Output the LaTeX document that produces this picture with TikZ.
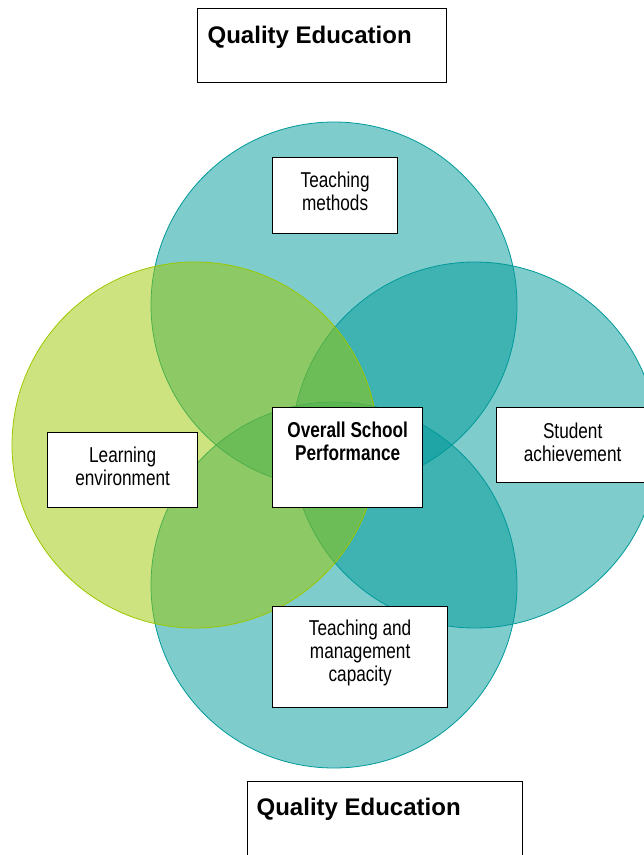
\documentclass[tikz,border=0pt]{standalone}
\usepackage{fontspec}
\setmainfont{Liberation Sans}
\newfontfamily\narrowfont[FakeStretch=0.8]{Liberation Sans}

\definecolor{tealring}{RGB}{0,153,153}
\definecolor{limering}{RGB}{155,199,0}

\tikzset{
  ring/.style={fill opacity=0.5, line width=0.8pt},
  textbox/.style={draw, fill=white, line width=1.3pt, inner sep=0pt, anchor=north west},
  boxfont/.style={font=\narrowfont\fontsize{21.5}{23}\selectfont},
  titlefont/.style={font=\bfseries\fontsize{24}{28}\selectfont}
}
% width, height, first baseline, lines
\newcommand{\boxlines}[4]{\parbox[c][#2][t]{#1}{\centering\rule{0pt}{#3}#4}}

\begin{document}
\begin{tikzpicture}[x=1pt,y=-1pt]
\useasboundingbox (0,0) rectangle (644,855);
\clip (0,0) rectangle (644,855);
% the four circles
\draw[ring,draw=tealring,fill=tealring] (334,305) circle (183pt);
\draw[ring,draw=tealring,fill=tealring] (475,445) circle (183pt);
\draw[ring,draw=tealring,fill=tealring] (334,585) circle (183pt);
\draw[ring,draw=limering,fill=limering] (195,445) circle (183pt);
% titles
\node[textbox,titlefont] (qtop) at (197,8)
  {\parbox[c][74pt][t]{249pt}{\raggedright\hspace*{10pt}\rule{0pt}{35pt}Quality Education}};
\node[textbox,titlefont] (qbot) at (247,781)
  {\parbox[c][90pt][t]{275pt}{\raggedright\hspace*{9pt}\rule{0pt}{34pt}Quality Education}};
% boxes
\node[textbox,boxfont] (methods) at (272,157) {\boxlines{125pt}{76pt}{30pt}{Teaching\\methods}};
\node[textbox,boxfont] (overall) at (272,407) {\boxlines{150pt}{100pt}{30pt}{\bfseries Overall School\\Performance}};
\node[textbox,boxfont] (learning) at (47,432) {\boxlines{150pt}{75pt}{30pt}{Learning\\environment}};
\node[textbox,boxfont] (student) at (496,407) {\boxlines{152pt}{75pt}{31pt}{Student\\achievement}};
\node[textbox,boxfont] (capacity) at (272,606) {\boxlines{175pt}{101pt}{29pt}{Teaching and\\management\\capacity}};
\end{tikzpicture}
\end{document}
